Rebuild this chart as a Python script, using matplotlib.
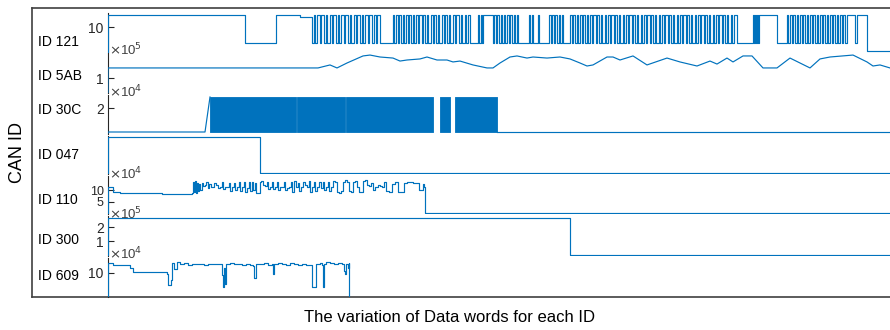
import numpy as np
import matplotlib
matplotlib.use("Agg")
import matplotlib.pyplot as plt

plt.rcParams['font.family'] = ['Liberation Sans', 'DejaVu Sans']

# ---- data (x = sample index, y = data word value) ----
ids = ["ID 121", "ID 5AB", "ID 30C", "ID 047", "ID 110", "ID 300", "ID 609"]

HI = 14.6
LO = 3.8
id121_steps = [
    (0, 0), (0, HI), (137, LO), (168, HI), (192, 13.8),
    (204, LO), (206, HI), (207, LO), (209, HI), (212, LO), (213, HI), (216, LO), (218, HI), (219, LO),
    (222, HI), (224, LO), (225, HI), (228, LO), (230, HI), (231, LO), (233, HI), (236, LO), (237, HI),
    (240, LO), (242, HI), (243, LO), (246, HI), (248, LO), (249, HI), (252, LO), (254, HI), (255, LO),
    (257, HI), (260, LO), (261, HI), (264, LO), (266, HI), (268, LO), (269, HI), (272, LO),
    (285, HI), (286, LO), (288, HI), (290, LO), (291, HI), (293, LO), (295, HI), (296, LO), (298, HI),
    (300, LO), (301, HI), (303, LO), (305, HI), (306, LO), (308, HI), (310, LO), (311, HI), (314, LO),
    (315, HI), (317, LO), (319, HI), (320, LO), (323, HI), (325, LO), (326, HI), (328, LO), (330, HI),
    (331, LO), (334, HI), (336, LO), (337, HI), (339, LO), (341, HI), (342, LO), (345, HI), (347, LO),
    (348, HI), (351, LO), (353, HI), (354, LO), (357, HI), (358, LO), (360, HI), (362, LO),
    (370, HI), (371, LO), (373, HI), (374, LO), (375, HI), (385, LO), (386, HI), (388, LO), (389, HI),
    (391, LO), (393, HI), (394, LO), (396, HI), (397, LO), (399, HI), (401, LO), (402, HI), (404, LO),
    (406, HI), (407, LO), (409, HI), (410, LO), (421, HI), (422, LO), (424, HI), (425, LO), (430, HI),
    (431, LO), (441, HI), (443, LO), (444, HI), (446, LO), (447, HI), (449, LO), (451, HI), (452, LO),
    (454, HI), (455, LO), (462, HI), (464, LO), (465, HI), (467, LO), (469, HI), (470, LO), (472, HI),
    (474, LO), (475, HI), (477, LO), (479, HI), (480, LO), (482, HI), (484, LO), (485, HI), (488, LO),
    (489, HI), (491, LO), (493, HI), (494, LO), (497, HI), (498, LO), (500, HI), (502, LO), (503, HI),
    (506, LO), (507, HI), (509, LO), (511, HI), (512, LO), (515, HI), (516, LO), (518, HI), (520, LO),
    (521, HI), (524, LO), (525, HI), (527, LO), (529, HI), (530, LO), (533, HI), (534, LO), (536, HI),
    (538, LO), (539, HI), (542, LO), (543, HI), (545, LO), (547, HI), (548, LO), (551, HI), (552, LO),
    (554, HI), (556, LO), (557, HI), (560, LO), (561, HI), (563, LO), (565, HI), (566, LO), (569, HI),
    (570, LO), (572, HI), (574, LO), (575, HI), (578, LO), (579, HI), (581, LO), (583, HI), (584, LO),
    (587, HI), (588, LO), (590, HI), (592, LO), (593, HI), (596, LO), (597, HI), (599, LO), (601, HI),
    (602, LO), (605, HI), (606, LO), (608, HI), (610, LO), (611, HI), (614, LO), (615, HI), (617, LO),
    (619, HI), (620, LO), (623, HI), (624, LO), (626, HI), (629, LO),
    (645, HI), (646, LO), (647, HI), (648, LO), (649, HI), (650, LO), (651, HI), (669, LO),
    (679, HI), (680, LO), (682, HI), (684, LO), (685, HI), (687, LO), (689, HI), (690, LO), (692, HI),
    (694, LO), (695, HI), (697, LO), (699, HI), (700, LO), (702, HI), (704, LO), (705, HI), (707, LO),
    (709, HI), (710, LO), (712, HI), (714, LO), (715, HI), (717, LO), (719, HI), (720, LO), (722, HI),
    (724, LO), (725, HI), (727, LO), (729, HI), (730, LO), (732, HI), (734, LO), (735, HI), (737, LO),
    (739, HI), (747, LO), (749, HI), (759, 0.8), (782, 0.8),
]

id5ab_x = [0, 0, 210, 222, 229, 239, 255, 262, 272, 285, 292, 299, 312, 319, 329, 339, 345, 352,
           365, 379, 385, 392, 402, 409, 419, 425, 439, 452, 462, 472, 479, 485, 499, 505, 512, 525,
           539, 559, 572, 589, 602, 609, 619, 625, 635, 644, 655, 669, 682, 692, 702, 712, 722, 745,
           759, 765, 772, 782]
id5ab_y = [0, 1.67, 1.67, 1.87, 1.67, 2.0, 2.47, 2.53, 2.4, 2.33, 2.13, 2.2, 2.27, 2.4, 2.2, 2.2,
           2.07, 2.13, 1.87, 1.67, 1.67, 2.0, 2.4, 2.47, 2.33, 2.4, 2.33, 2.4, 2.27, 2.0, 1.8, 1.87,
           2.4, 2.4, 2.2, 2.47, 1.87, 2.33, 2.07, 1.8, 2.13, 1.93, 2.33, 2.07, 2.47, 2.47, 1.67, 1.67,
           2.33, 2.0, 1.67, 2.27, 2.4, 2.53, 2.07, 1.8, 1.87, 1.67]

# 30C toggles too fast to resolve: low level, high level and the bursts of toggling
id30c_low = 0.08
id30c_high = 2.88
id30c_bursts = [(102, 187.5), (188.5, 236.5), (237.5, 325), (332, 342), (347, 389)]

id047_x = [0, 0, 152, 152, 782]
id047_y = [0, 0.97, 0.97, 0.03, 0.03]

id110_pts = [
    (0, 0), (0, 11.3), (5, 9.3), (12, 8.8), (54, 8.3), (84, 8.6),
    (85, 13.5), (86, 9.0), (87, 13.8), (88, 8.8), (89, 13.2), (90, 9.5), (91, 12.8), (92, 10.0),
    (94, 13.0), (95, 11.6), (97, 12.2), (98, 13.6), (100, 11.0), (101, 12.5), (103, 11.2),
    (105, 11.4), (106, 13.2), (108, 12.0), (110, 11.0), (112, 11.3), (114, 13.4), (115, 10.4),
    (117, 11.2), (119, 11.4), (121, 12.9), (122, 9.6), (124, 11.3), (126, 13.2), (127, 9.8),
    (129, 11.2), (131, 13.5), (132, 9.5), (134, 11.3), (136, 13.6), (137, 9.2), (139, 11.0),
    (141, 13.3), (142, 9.4), (144, 13.4), (145, 10.2), (147, 13.0), (148, 8.9), (150, 8.6),
    (152, 13.4), (153, 14.1), (155, 12.0), (157, 11.6), (159, 13.6), (160, 10.6), (162, 11.3),
    (164, 13.4), (165, 10.3), (167, 11.2), (169, 13.5), (170, 10.0), (172, 11.3), (174, 11.2),
    (176, 13.3), (177, 10.1), (179, 11.0), (181, 11.1), (183, 13.6), (184, 9.3), (186, 13.8),
    (188, 11.2), (190, 13.0), (191, 9.6), (193, 11.3), (195, 13.5), (197, 12.0), (199, 11.4),
    (201, 13.8), (202, 9.2), (204, 11.4), (206, 13.3), (207, 9.5), (209, 11.3), (211, 13.7),
    (213, 11.0), (215, 13.5), (216, 10.0), (218, 11.2), (220, 13.6), (221, 9.4), (223, 11.4),
    (225, 13.8), (227, 13.6), (229, 9.0), (231, 8.5), (233, 9.4), (235, 13.6), (237, 14.3),
    (239, 13.5), (241, 9.6), (243, 9.0), (245, 13.4), (247, 14.0), (249, 11.2), (251, 9.0),
    (253, 9.3), (255, 13.8), (257, 14.2), (259, 12.0), (261, 11.6), (263, 13.2), (265, 10.0),
    (267, 11.4), (270, 12.0), (272, 11.6), (274, 11.5), (276, 13.4), (278, 9.4), (281, 9.0),
    (284, 12.8), (287, 13.4), (290, 9.2), (293, 9.0), (296, 13.2), (299, 13.4), (302, 13.3),
    (305, 13.1), (308, 13.2), (311, 9.8), (313, 10.2), (315, 12.6), (316, 11.2), (317, 10.4),
    (317, 0), (782, 0),
]

id300_x = [0, 0, 462, 462, 782]
id300_y = [0, 2.64, 2.64, 0, 0]

id609_x = [0, 0, 5, 22, 25, 59, 60, 63, 64, 66, 69, 72, 76, 80, 84, 88, 92, 96, 100, 104, 108, 112,
           114, 115, 116, 117, 118, 122, 126, 130, 134, 138, 142, 145, 146, 148, 152, 156, 160, 164,
           165, 166, 170, 174, 178, 182, 186, 190, 194, 198, 202, 204, 206, 208, 212, 214, 215, 216,
           218, 222, 226, 230, 234, 236, 237, 238, 240, 241, 241]
id609_y = [0, 14.3, 13.3, 12.0, 10.6, 9.6, 5.0, 7.0, 14.0, 11.5, 14.7, 13.6, 14.0, 13.5, 13.8, 13.6,
           13.7, 13.4, 13.9, 13.6, 13.7, 13.6, 9.0, 4.3, 12.0, 5.5, 13.8, 14.2, 13.6, 13.7, 13.5,
           13.6, 13.4, 12.8, 7.9, 13.9, 13.6, 14.0, 13.5, 13.6, 9.6, 13.8, 14.2, 13.7, 13.5, 14.1,
           13.6, 13.4, 13.8, 13.5, 13.2, 4.3, 4.3, 13.6, 14.0, 13.5, 4.3, 13.8, 14.4, 14.0, 13.6,
           14.1, 13.7, 11.0, 9.6, 13.8, 12.0, 14.0, 0]

ylims = [(0, 15.4), (0, 2.6), (-0.08, 3.04), (0, 1.0), (-0.43, 16.1), (-0.07, 2.79), (0, 16.25)]
yticks = [[10], [1], [2], [], [5, 10], [1, 2], [10]]
exponents = [None, 5, 4, None, 4, 5, 4]

# ---- layout (pixels of the 890x330 figure) ----
W, H = 890, 330
blue = '#0072BD'
panels = [(13, 53), (54, 93), (95, 134), (136, 174), (176, 214), (216, 256), (258, 297)]
label_y = [42, 76, 110, 155, 200, 240, 276]
exp_y = [None, 50, 92, None, 174, 214, 254]
tick_size = [10, 10, 10, 10, 9, 10, 10]

fig = plt.figure(figsize=(W / 100, H / 100), dpi=100)

box = fig.add_axes([32 / W, (H - 297) / H, 1.0, (297 - 8) / H])
box.set_xticks([])
box.set_yticks([])
for s in box.spines.values():
    s.set_color('#404040')
    s.set_linewidth(1.2)
box.set_ylabel("CAN ID", fontsize=13, labelpad=4)
fig.text(450 / W, 1 - 318 / H, "The variation of Data words for each ID", fontsize=12,
         ha='center', va='center')

axes = []
for i, (t, b) in enumerate(panels):
    ax = fig.add_axes([108 / W, (H - b) / H, (W - 108) / W, (b - t) / H])
    ax.patch.set_alpha(0)
    ax.set_xlim(0, 782)
    ax.set_ylim(*ylims[i])
    ax.set_xticks([])
    ax.set_yticks(yticks[i])
    ax.tick_params(axis='y', direction='in', length=4, width=0.8, colors='#262626',
                   labelsize=tick_size[i], pad=3)
    for side in ['top', 'right', 'bottom']:
        ax.spines[side].set_visible(False)
    ax.spines['left'].set_color('#262626')
    ax.spines['left'].set_linewidth(0.8)
    fig.text(38 / W, 1 - label_y[i] / H, ids[i], fontsize=10, ha='left', va='center')
    if exponents[i] is not None:
        fig.text(109 / W, 1 - exp_y[i] / H, r'$\times$10$^{%d}$' % exponents[i], fontsize=9.5,
                 color='#404040', ha='left', va='center')
    axes.append(ax)

sx = [p[0] for p in id121_steps]
sy = [p[1] for p in id121_steps]
axes[0].step(sx, sy, where='post', color=blue, lw=0.85, zorder=3)

axes[1].plot(id5ab_x, id5ab_y, color=blue, lw=0.85, zorder=3)

ax = axes[2]
ax.plot([0, 0, 97, 102], [0, id30c_low, id30c_low, id30c_high], color=blue, lw=0.85, zorder=3)
for a, b in id30c_bursts:
    ax.fill_between([a, b], id30c_low, id30c_high, color=blue, lw=0.6, zorder=3)
ax.plot([389, 782], [id30c_low, id30c_low], color=blue, lw=0.85, zorder=3)

axes[3].plot(id047_x, id047_y, color=blue, lw=0.85, zorder=3)
px110 = [p[0] for p in id110_pts]
py110 = [p[1] for p in id110_pts]
axes[4].step(px110, py110, where='post', color=blue, lw=0.85, zorder=3)
axes[5].plot(id300_x, id300_y, color=blue, lw=0.85, zorder=3)
axes[6].step(id609_x, id609_y, where='post', color=blue, lw=0.85, zorder=3)

fig.savefig("out.png", dpi=100)
